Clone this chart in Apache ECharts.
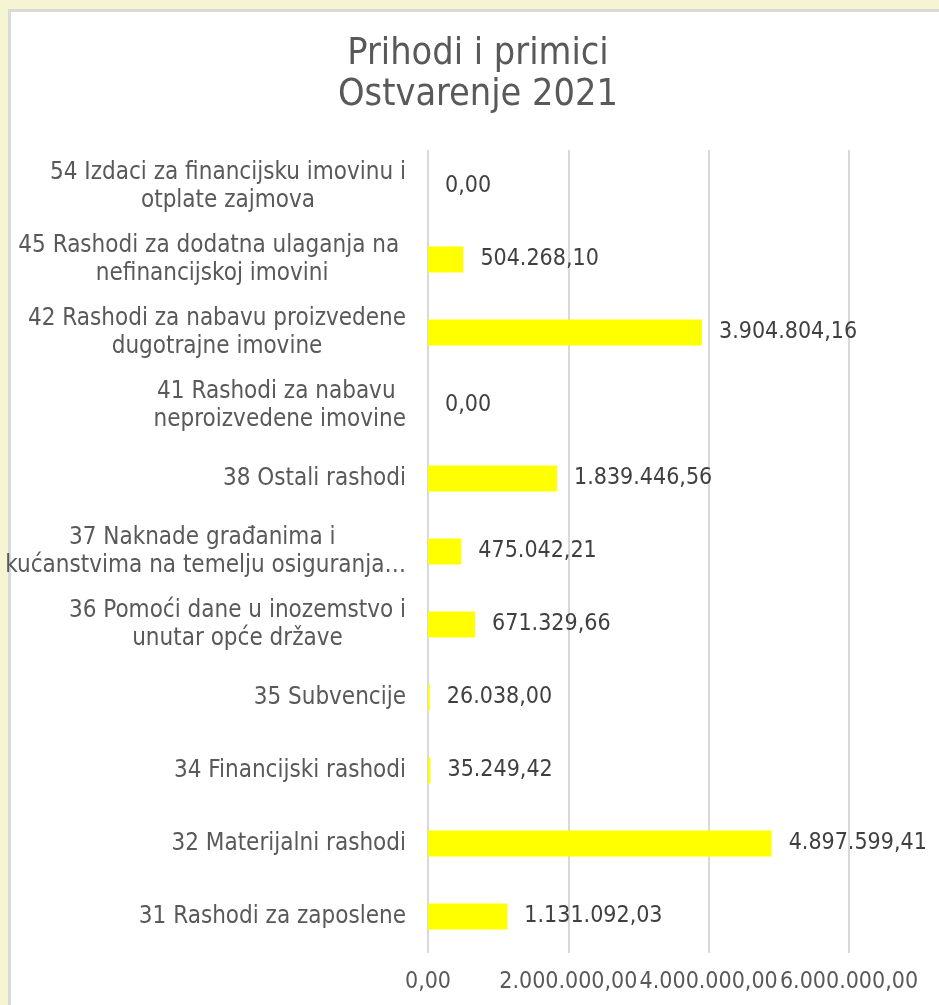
<!DOCTYPE html>
<html>
<head>
<meta charset="utf-8">
<script src="https://cdn.jsdelivr.net/npm/echarts@6/dist/echarts.min.js"></script>
<style>
  html, body { margin: 0; padding: 0; background: #f6f5d3; }
  #panel { position: absolute; left: 8px; top: 9px; width: 931px; height: 996px;
           background: #fff; border-left: 3px solid #d9d9d9; border-top: 3px solid #d9d9d9; }
  #main { position: absolute; left: 0; top: 0; width: 939px; height: 1005px; }
</style>
</head>
<body>
<div id="panel"></div>
<div id="main"></div>
<script>
// kategorije odozdo prema gore
var categories = [
  '31 Rashodi za zaposlene',
  '32 Materijalni rashodi',
  '34 Financijski rashodi',
  '35 Subvencije',
  '36 Pomoći dane u inozemstvo i\nunutar opće države',
  '37 Naknade građanima i \nkućanstvima na temelju osiguranja…',
  '38 Ostali rashodi',
  '41 Rashodi za nabavu \nneproizvedene imovine',
  '42 Rashodi za nabavu proizvedene\ndugotrajne imovine',
  '45 Rashodi za dodatna ulaganja na \nnefinancijskoj imovini',
  '54 Izdaci za financijsku imovinu i\notplate zajmova'
];
var ostvarenje = [
  1131092.03, 4897599.41, 35249.42, 26038.00, 671329.66, 475042.21,
  1839446.56, 0, 3904804.16, 504268.10, 0
];
var xMin = 0, xMax = 6000000, xStep = 2000000;

var FONT = '"DejaVu Sans Condensed", "DejaVu Sans", sans-serif';

// hrvatski format broja: 1.234.567,89
function hrNum(v) {
  var parts = v.toFixed(2).split('.');
  parts[0] = parts[0].replace(/\B(?=(\d{3})+(?!\d))/g, '.');
  return parts[0] + ',' + parts[1];
}

var myChart = echarts.init(document.getElementById('main'));
var option = {
  // naslov je malo desno od sredine, pa ide kao graphic tekst
  graphic: [{
    type: 'text',
    x: 478, y: 34,
    style: {
      text: 'Prihodi i primici\nOstvarenje 2021',
      align: 'center', verticalAlign: 'top',
      fontFamily: FONT, fontSize: 37.5, lineHeight: 41, fill: '#595959'
    }
  }],
  grid: { left: 428, right: 90, top: 150, bottom: 52 },
  xAxis: {
    type: 'value',
    min: xMin, max: xMax, interval: xStep,
    axisLine: { show: false },
    axisTick: { show: false },
    splitLine: { lineStyle: { color: '#d9d9d9', width: 2 } },
    axisLabel: {
      margin: 18,
      fontFamily: FONT, fontSize: 23, color: '#595959',
      formatter: function (v) { return hrNum(v); }
    }
  },
  yAxis: {
    type: 'category',
    data: categories,
    axisLine: { show: false },
    axisTick: { show: false },
    axisLabel: {
      margin: 22,
      formatter: function (v) {
        return v.split('\n').map(function (l) { return '{c|' + l + '}'; }).join('\n');
      },
      rich: {
        c: { align: 'center', fontFamily: FONT, fontSize: 24, lineHeight: 28, color: '#595959' }
      }
    }
  },
  series: [{
    type: 'bar',
    data: ostvarenje,
    barWidth: 26,
    itemStyle: { color: '#ffff00' },
    label: {
      show: true,
      position: 'right',
      distance: 17,
      fontFamily: FONT, fontSize: 23, color: '#404040',
      formatter: function (p) { return hrNum(p.value); }
    }
  }]
};
option && myChart.setOption(option);
</script>
</body>
</html>
